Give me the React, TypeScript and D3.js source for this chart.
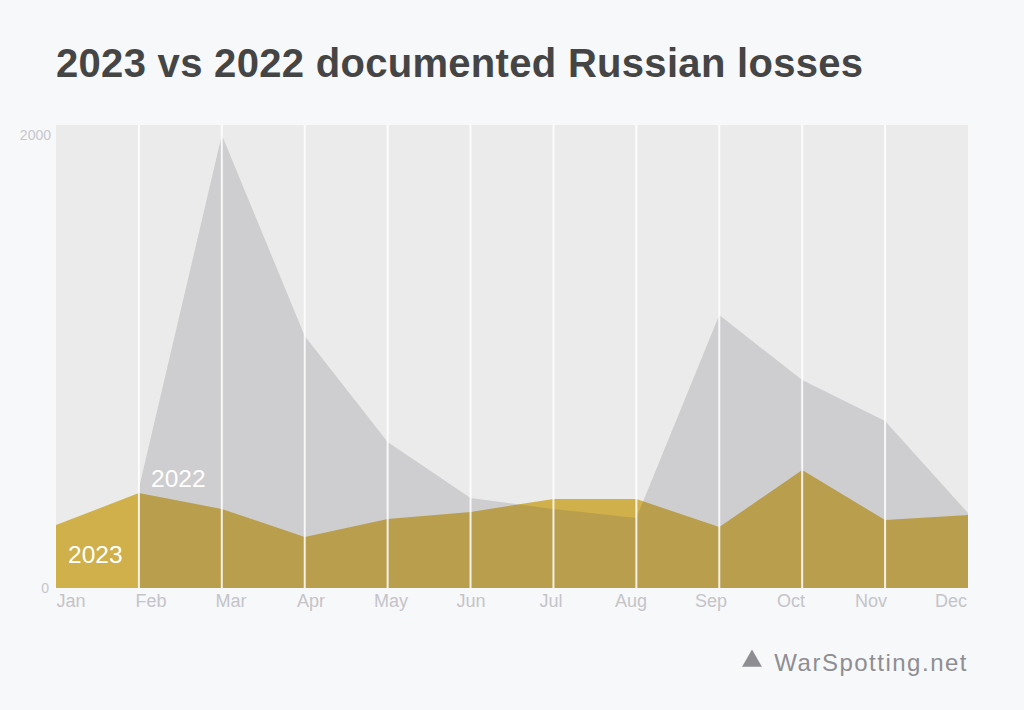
import React from "react";
import * as d3 from "d3";

const months = ["Jan", "Feb", "Mar", "Apr", "May", "Jun", "Jul", "Aug", "Sep", "Oct", "Nov", "Dec"];
const losses2022: (number | null)[] = [null, 440, 2000, 1113, 645, 397, 349, 309, 1205, 918, 737, 331];
const losses2023: (number | null)[] = [278, 419, 349, 225, 305, 336, 393, 393, 269, 521, 300, 322];
const yTicks = [0, 2000];
const title = "2023 vs 2022 documented Russian losses";
const source = "WarSpotting.net";

const W = 1024;
const H = 710;
const left = 56;
const right = 968;
const top = 125;
const bottom = 588;

export default function App() {
  const x = d3.scalePoint<string>().domain(months).range([left, right]);
  const xLabel = d3.scalePoint<string>().domain(months).range([71, 951]);
  const y = d3.scaleLinear().domain([0, 2000]).range([bottom, 135]);

  const area = d3
    .area<number | null>()
    .defined((d) => d !== null)
    .x((_, i) => x(months[i]) as number)
    .y0(y(0))
    .y1((d) => y(d as number));

  const font = "'Liberation Sans', Arial, Helvetica, sans-serif";

  return (
    <svg
      width={W}
      height={H}
      style={{ position: "absolute", top: 0, left: 0, display: "block" }}
    >
      <rect width={W} height={H} fill="#f7f8fa" />
      <text
        x={56}
        y={77}
        fontFamily={font}
        fontWeight="bold"
        fontSize={40}
        letterSpacing={0.3}
        fill="#454545"
      >
        {title}
      </text>
      <rect x={left} y={top} width={right - left} height={bottom - top} fill="#ebebeb" />
      <path d={area(losses2023) || ""} fill="#d0b04a" />
      <path d={area(losses2022) || ""} fill="#4f4f5c" fillOpacity={0.18} />
      {months.slice(1, -1).map((m) => (
        <line
          key={m}
          x1={x(m)}
          x2={x(m)}
          y1={top}
          y2={bottom}
          stroke="#ffffff"
          strokeOpacity={0.85}
          strokeWidth={2}
        />
      ))}
      {yTicks.map((t) => (
        <text
          key={t}
          x={t === 0 ? 49 : 51}
          y={y(t)}
          dy="0.35em"
          textAnchor="end"
          fontFamily={font}
          fontSize={14}
          fill="#c6c6ca"
        >
          {t}
        </text>
      ))}
      {months.map((m) => (
        <text
          key={m}
          x={xLabel(m)}
          y={607}
          textAnchor="middle"
          fontFamily={font}
          fontSize={18}
          fill="#c4c4c8"
        >
          {m}
        </text>
      ))}
      <text x={151} y={487} fontFamily={font} fontSize={24.5} fill="#ffffff">
        2022
      </text>
      <text x={68} y={563} fontFamily={font} fontSize={24.5} fill="#ffffff">
        2023
      </text>
      <path
        d={d3.symbol(d3.symbolTriangle, 170)() || ""}
        transform="translate(752,661)"
        fill="#8e8e92"
      />
      <text
        x={968}
        y={671}
        textAnchor="end"
        fontFamily={font}
        fontSize={24}
        letterSpacing={1.5}
        fill="#8e8e92"
      >
        {source}
      </text>
    </svg>
  );
}
